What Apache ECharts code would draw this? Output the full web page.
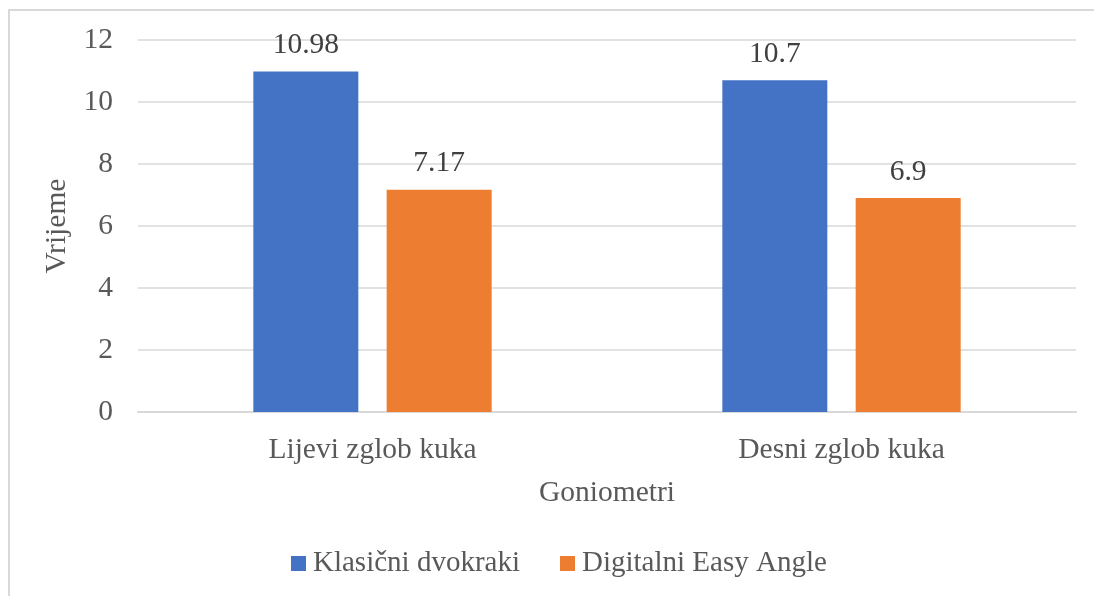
<!DOCTYPE html>
<html>
<head>
<meta charset="utf-8">
<script src="https://cdn.jsdelivr.net/npm/echarts@6/dist/echarts.min.js"></script>
<style>
html,body{margin:0;padding:0;background:#fff;}
#chart{width:1094px;height:596px;}
</style>
</head>
<body>
<div id="chart"></div>
<script>
const categories = ['Lijevi zglob kuka', 'Desni zglob kuka'];
const seriesNames = ['Klasični dvokraki', 'Digitalni Easy Angle'];
const klasicni = [10.98, 10.7];
const digitalni = [7.17, 6.9];
const yTicks = { min: 0, max: 12, interval: 2 };
const xTitle = 'Goniometri';
const yTitle = 'Vrijeme';

const FONT = '"Liberation Serif", "Times New Roman", serif';
const FS = 29.5;
const chart = echarts.init(document.getElementById('chart'), null, { renderer: 'canvas' });

const labelStyle = {
  show: true,
  position: 'top',
  distance: 11,
  color: '#404040',
  fontFamily: FONT,
  fontSize: FS
};

chart.setOption({
  animation: false,
  backgroundColor: '#ffffff',
  textStyle: { fontFamily: FONT },
  graphic: [{
    type: 'rect',
    shape: { x: 9, y: 10, width: 1300, height: 800 },
    style: { fill: 'none', stroke: '#d9d9d9', lineWidth: 2 },
    silent: true
  }],
  grid: { left: 138, right: 18, top: 40, bottom: 184, containLabel: false },
  legend: {
    data: seriesNames,
    left: 286,
    top: 544,
    icon: 'rect',
    itemWidth: 15,
    itemHeight: 15,
    itemGap: 40,
    textStyle: { fontFamily: FONT, fontSize: 29, color: '#595959', padding: [0, 0, 0, 2] }
  },
  xAxis: {
    type: 'category',
    data: categories,
    name: xTitle,
    nameLocation: 'middle',
    nameGap: 66,
    nameTextStyle: { fontFamily: FONT, fontSize: FS, color: '#595959' },
    axisLine: { show: true, lineStyle: { color: '#d9d9d9', width: 2 } },
    axisTick: { show: false },
    axisLabel: { fontFamily: FONT, fontSize: FS, color: '#595959', margin: 23 }
  },
  yAxis: {
    type: 'value',
    min: yTicks.min,
    max: yTicks.max,
    interval: yTicks.interval,
    name: yTitle,
    nameLocation: 'middle',
    nameGap: 64,
    nameRotate: 90,
    nameTextStyle: { fontFamily: FONT, fontSize: FS, color: '#595959' },
    axisLine: { show: false },
    axisTick: { show: false },
    axisLabel: { fontFamily: FONT, fontSize: FS, color: '#595959', margin: 25 },
    splitLine: { show: true, lineStyle: { color: '#d9d9d9', width: 1.5 } }
  },
  series: [
    {
      name: seriesNames[0],
      type: 'bar',
      data: klasicni,
      barWidth: 105,
      barGap: '27%',
      itemStyle: { color: '#4472C4' },
      label: labelStyle
    },
    {
      name: seriesNames[1],
      type: 'bar',
      data: digitalni,
      barWidth: 105,
      barGap: '27%',
      itemStyle: { color: '#ED7D31' },
      label: labelStyle
    }
  ]
});
</script>
</body>
</html>
